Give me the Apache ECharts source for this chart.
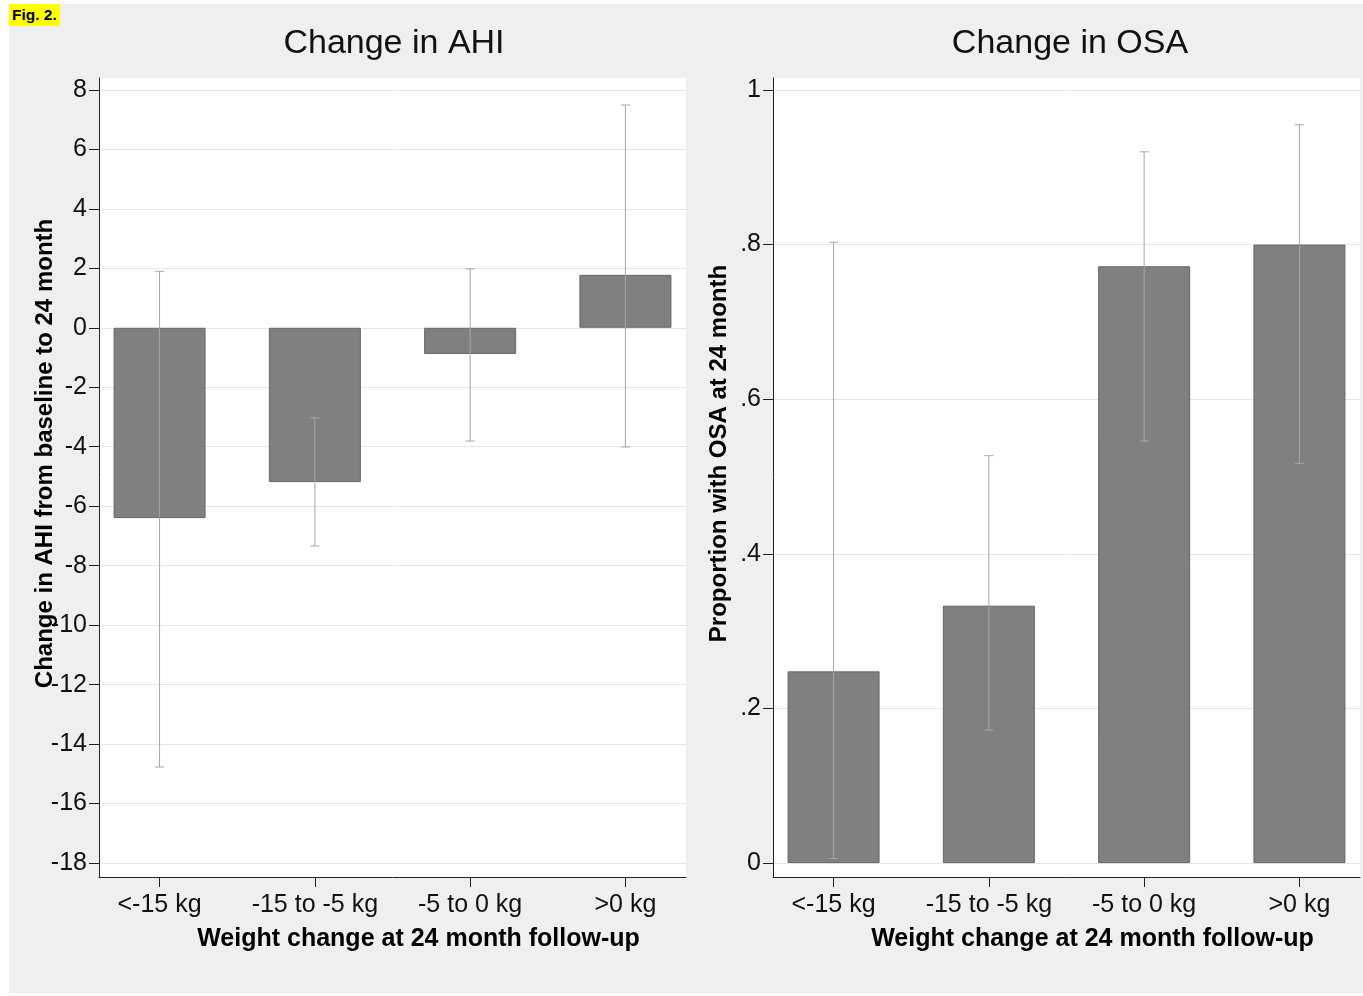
<!DOCTYPE html>
<html>
<head>
<meta charset="utf-8">
<script src="https://cdn.jsdelivr.net/npm/echarts@6/dist/echarts.min.js"></script>
<style>
  html, body { margin: 0; padding: 0; background: #fff; }
  .frame { position: absolute; left: 9px; top: 4px; width: 1354px; height: 989px; background: #efefef; }
  .fig { position: absolute; left: 9px; top: 4px; background: #ffff00; font: bold 15.5px "Liberation Sans", Arial, sans-serif; padding: 2px 3px 2px 3px; color: #000; z-index: 2; }
  #chart { position: absolute; left: 0; top: 0; width: 1363px; height: 996px; }
</style>
</head>
<body>
<div class="frame"></div>
<div class="fig">Fig. 2.</div>
<div id="chart"></div>
<script>
// weight change groups
const categories = ["<-15 kg", "-15 to -5 kg", "-5 to 0 kg", ">0 kg"];

// change in AHI: mean and 95% CI
const ahiMean = [-6.4, -5.19, -0.88, 1.78];
const ahiLow = [-14.77, -7.34, -3.81, -4.01];
const ahiHigh = [1.9, -3.03, 1.98, 7.49];
const ahiTicks = [-18, -16, -14, -12, -10, -8, -6, -4, -2, 0, 2, 4, 6, 8];

// proportion with OSA: mean and 95% CI
const osaMean = [0.248, 0.333, 0.772, 0.8];
const osaLow = [0.006, 0.172, 0.546, 0.517];
const osaHigh = [0.803, 0.527, 0.92, 0.955];
const osaTicks = [0, 0.2, 0.4, 0.6, 0.8, 1];

const catPos = [1, 2, 3, 4];

const font = '"Liberation Sans", Arial, sans-serif';
const chart = echarts.init(document.getElementById("chart"));

function xAxisFor(gridIndex) {
  return {
    type: "value",
    gridIndex: gridIndex,
    min: 0.61,
    max: 4.39,
    name: "Weight change at 24 month follow-up",
    nameLocation: "middle",
    nameGap: 50,
    nameMoveOverlap: false,
    nameTextStyle: { fontFamily: font, fontSize: 25, fontWeight: "bold", color: "#000", padding: [0, 0, 0, 52] },
    axisLine: { show: true, onZero: false, lineStyle: { color: "#222", width: 1 } },
    axisTick: { show: true, customValues: catPos, length: 10, lineStyle: { color: "#222" } },
    axisLabel: {
      customValues: catPos,
      margin: 16,
      fontFamily: font,
      fontSize: 25,
      color: "#111",
      formatter: v => categories[Math.round(v) - 1]
    },
    splitLine: { show: false }
  };
}

function yAxisFor(gridIndex, min, max, ticks, name, fmt) {
  return {
    type: "value",
    gridIndex: gridIndex,
    min: min,
    max: max,
    name: name,
    nameLocation: "middle",
    nameGap: 42,
    nameRotate: 90,
    nameMoveOverlap: false,
    nameTextStyle: { fontFamily: font, fontSize: 24, fontWeight: "bold", color: "#000", padding: [0, 0, 0, 48] },
    axisLine: { show: true, lineStyle: { color: "#222", width: 1 } },
    axisTick: { show: true, customValues: ticks, length: 10, lineStyle: { color: "#222" } },
    axisLabel: { customValues: ticks, margin: 12, fontFamily: font, fontSize: 25, color: "#111", formatter: fmt },
    splitLine: { show: true, lineStyle: { color: "#e6e6e6", width: 1 } }
  };
}

function errorBars(xAxisIndex, low, high) {
  return {
    type: "custom",
    xAxisIndex: xAxisIndex,
    yAxisIndex: xAxisIndex,
    z: 5,
    data: catPos.map((x, i) => [x, low[i], high[i]]),
    renderItem: (params, api) => {
      const x = api.value(0);
      const top = api.coord([x, api.value(2)]);
      const bot = api.coord([x, api.value(1)]);
      const cap = 4.5;
      const style = { stroke: "#a6a6a6", lineWidth: 1 };
      return {
        type: "group",
        children: [
          { type: "line", shape: { x1: top[0], y1: top[1], x2: bot[0], y2: bot[1] }, style: style },
          { type: "line", shape: { x1: top[0] - cap, y1: top[1], x2: top[0] + cap, y2: top[1] }, style: style },
          { type: "line", shape: { x1: bot[0] - cap, y1: bot[1], x2: bot[0] + cap, y2: bot[1] }, style: style }
        ]
      };
    }
  };
}

function bars(xAxisIndex, values) {
  return {
    type: "bar",
    xAxisIndex: xAxisIndex,
    yAxisIndex: xAxisIndex,
    barWidth: 92,
    data: catPos.map((x, i) => [x, values[i]]),
    itemStyle: { color: "#808080", borderColor: "#666", borderWidth: 1 },
    silent: true
  };
}

const option = {
  animation: false,
  title: [
    { text: "Change in AHI", left: 389, top: 22, textAlign: "center",
      textStyle: { fontFamily: font, fontSize: 34, fontWeight: "normal", color: "#111" } },
    { text: "Change in OSA", left: 1065, top: 22, textAlign: "center",
      textStyle: { fontFamily: font, fontSize: 34, fontWeight: "normal", color: "#111" } }
  ],
  grid: [
    { left: 99, top: 78, width: 587, height: 799, show: true, backgroundColor: "#fff", borderWidth: 0 },
    { left: 773, top: 78, width: 587, height: 799, show: true, backgroundColor: "#fff", borderWidth: 0 }
  ],
  xAxis: [xAxisFor(0), xAxisFor(1)],
  yAxis: [
    yAxisFor(0, -18.47, 8.4, ahiTicks, "Change in AHI from baseline to 24 month", v => String(v)),
    yAxisFor(1, -0.018, 1.0155, osaTicks, "Proportion with OSA at 24 month",
      v => (v === 0 || v === 1) ? String(v) : String(+v.toFixed(1)).replace(/^0/, ""))
  ],
  series: [
    bars(0, ahiMean),
    errorBars(0, ahiLow, ahiHigh),
    bars(1, osaMean),
    errorBars(1, osaLow, osaHigh)
  ]
};

chart.setOption(option);
</script>
</body>
</html>
